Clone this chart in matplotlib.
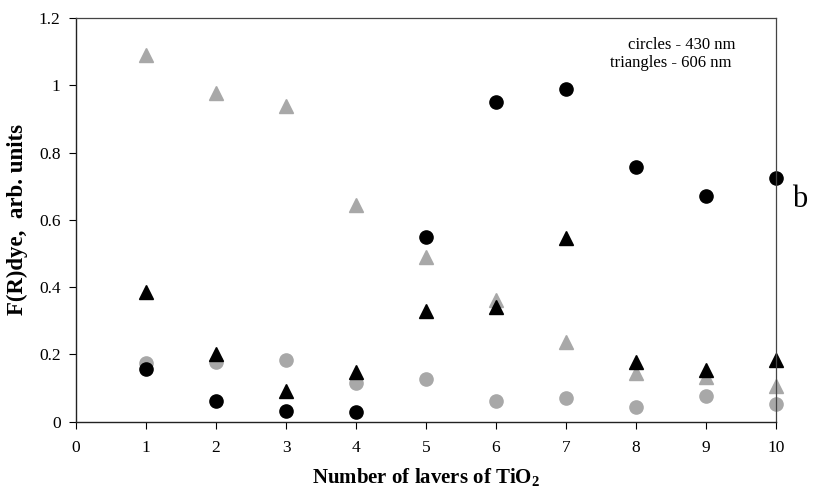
import matplotlib
matplotlib.use("Agg")
import matplotlib.pyplot as plt

layers = [1, 2, 3, 4, 5, 6, 7, 8, 9, 10]
circles_black = [0.155, 0.062, 0.032, 0.029, 0.55, 0.951, 0.99, 0.758, 0.671, 0.724]
circles_gray = [0.175, 0.177, 0.183, 0.115, 0.126, 0.062, 0.071, 0.044, 0.076, 0.052]
triangles_black = [0.385, 0.20, 0.091, 0.148, 0.33, 0.34, 0.545, 0.178, 0.153, 0.183]
triangles_gray = [1.09, 0.977, 0.939, 0.644, 0.49, 0.36, 0.2375, 0.143, 0.131, 0.106]

x_ticks = [0, 1, 2, 3, 4, 5, 6, 7, 8, 9, 10]
y_ticks = [0, 0.2, 0.4, 0.6, 0.8, 1.0, 1.2]
y_tick_labels = ["0", "0.2", "0.4", "0.6", "0.8", "1", "1.2"]

plt.rcParams['font.family'] = ['Liberation Serif', 'DejaVu Serif']
plt.rcParams['mathtext.fontset'] = 'custom'
plt.rcParams['mathtext.rm'] = 'Liberation Serif'
plt.rcParams['mathtext.bf'] = 'Liberation Serif:bold'

fig = plt.figure(figsize=(8.16, 4.93), dpi=100)
ax = fig.add_axes([0.0931, 0.145, 0.858, 0.8185])

gray = '#a8a8a8'
ax.plot(layers, triangles_gray, linestyle='none', marker='^', ms=10, color=gray, mec=gray, clip_on=False)
ax.plot(layers, circles_gray, linestyle='none', marker='o', ms=9.5, color=gray, mec=gray, clip_on=False)
ax.plot(layers, triangles_black, linestyle='none', marker='^', ms=10, color='black', clip_on=False)
ax.plot(layers, circles_black, linestyle='none', marker='o', ms=9.5, color='black', clip_on=False)

ax.set_xlim(0, 10)
ax.set_ylim(0, 1.2)
ax.set_xticks(x_ticks)
ax.set_xticklabels([str(t) for t in x_ticks])
ax.set_yticks(y_ticks)
ax.set_yticklabels(y_tick_labels)
ax.tick_params(axis='both', direction='out', length=5, width=0.8, labelsize=12.5)
ax.tick_params(axis='x', pad=8)
ax.tick_params(axis='y', pad=6)

for side in ['left', 'bottom']:
    ax.spines[side].set_linewidth(1.0)
    ax.spines[side].set_color('#222222')
for side in ['top', 'right']:
    ax.spines[side].set_linewidth(0.9)
    ax.spines[side].set_color('#444444')

ax.set_xlabel(r'Number of lavers of TiO$_\mathbf{2}$', fontsize=15, fontweight='bold', labelpad=8)
ax.set_ylabel('F(R)dye,  arb. units', fontsize=16.5, fontweight='bold', labelpad=8)

ax.text(7.88, 1.12, 'circles - 430 nm', fontsize=12, ha='left', va='center')
ax.text(7.63, 1.065, 'triangles - 606 nm', fontsize=12, ha='left', va='center')

fig.text(0.98, 0.595, 'b', fontsize=22, ha='center', va='center')

fig.savefig('out.png', dpi=100)
